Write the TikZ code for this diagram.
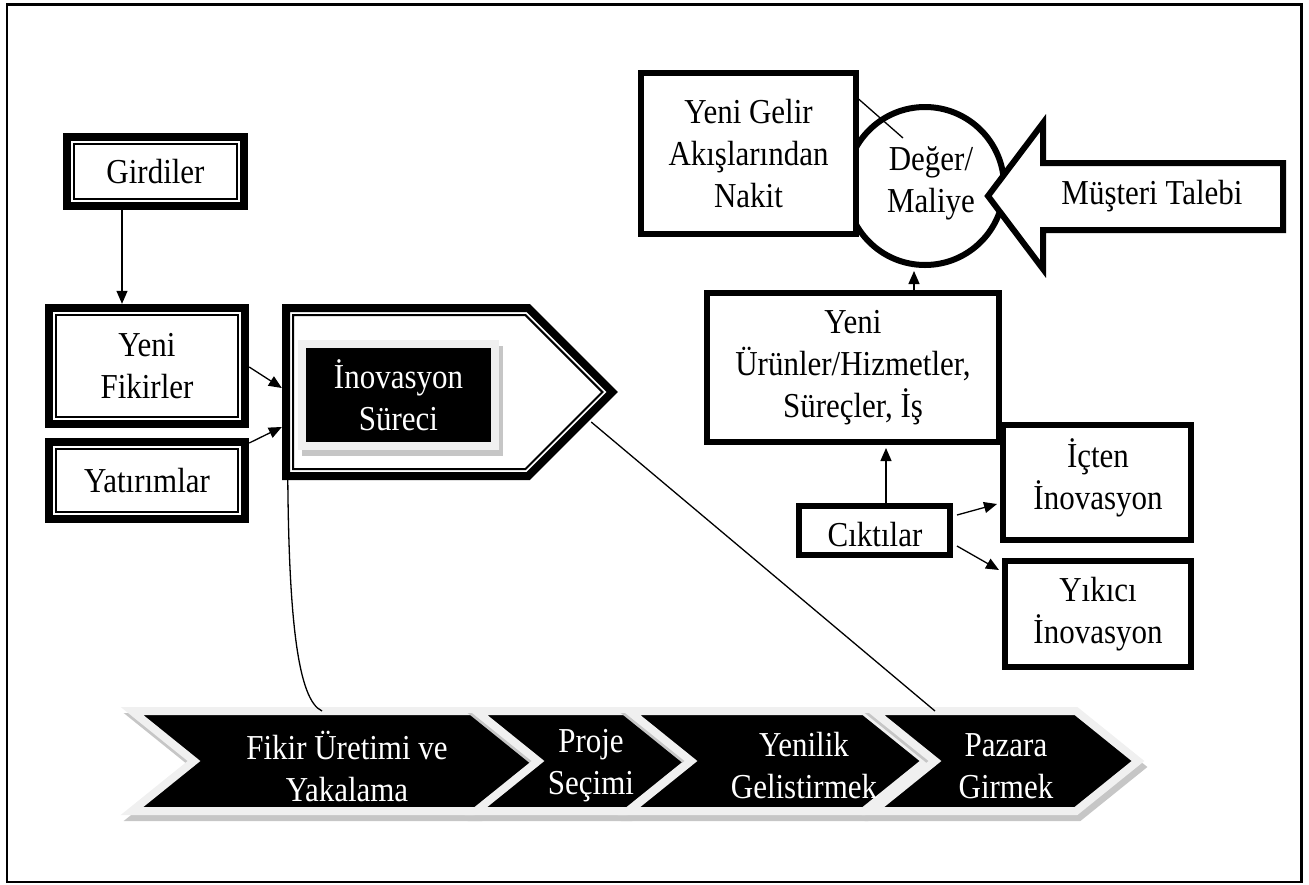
\documentclass[tikz,border=0pt]{standalone}
\usepackage{fontspec}
\setmainfont{Liberation Serif}[FakeStretch=0.885]
\usetikzlibrary{arrows.meta,calc}

% double frame: thick outer line, thin inner line
\newcommand\dblframe[1]{%
  \draw[line width=8pt] ([shift={(4,4)}]#1.north west) rectangle ([shift={(-4,-4)}]#1.south east);
  \draw[line width=2pt] ([shift={(11,11)}]#1.north west) rectangle ([shift={(-11,-11)}]#1.south east);}

\begin{document}
\begin{tikzpicture}[x=1pt,y=-1pt,
  every node/.style={font=\fontsize{35}{42}\selectfont, align=center, inner sep=0pt},
  conn/.style={line width=1.3pt, -{Triangle[length=13pt,width=11pt]}},
  thin/.style={line width=1.3pt},
  heavy/.style={draw, line width=6pt, fill=white},
  bevel/.style={fill=black, draw=gray!12, line width=8pt},
  bevelshadow/.style={fill=gray!45, draw=gray!45, line width=8pt},
]
\useasboundingbox (0,0) rectangle (1309,884);
\draw[line width=2.5pt] (7,4.5) rectangle (1301.5,882);

% ---------- inputs ----------
\node[minimum width=185pt, minimum height=77pt] (gir) at (155.5,171.5) {Girdiler};
\node[minimum width=204pt, minimum height=124pt] (yf) at (147,366) {Yeni\\Fikirler};
\node[minimum width=204pt, minimum height=85pt] (yat) at (147,480.5) {Yatırımlar};
\dblframe{gir}
\dblframe{yf}
\dblframe{yat}

% ---------- innovation process ----------
\node[minimum width=336pt, minimum height=176pt] (proc) at (450,392) {};
\draw[line width=8pt] (286,308) -- (528.3,308) -- (612.3,392) -- (528.3,476) -- (286,476) -- cycle;
\draw[line width=2pt] (293,315) -- (525.4,315) -- (602.4,392) -- (525.4,469) -- (293,469) -- cycle;
\draw[bevelshadow] (306,350) rectangle (499,452);
\node[bevel, minimum width=193pt, minimum height=102pt, text=white] (inov) at (398.5,395) {İnovasyon\\Süreci};

\draw[conn] ($(gir.south)+(-33.5,0)$) -- ($(yf.north)+(-25,0)$);
\draw[conn] ($(yf.east)+(0,1)$) -- ($(proc.west)+(0,-4)$);
\draw[conn] ($(yat.east)+(0,-37.5)$) -- ($(proc.west)+(0,35)$);

% ---------- value ----------
\node[heavy, circle, minimum size=158pt] (deg) at (925,186) {};
\coordinate (gl0) at (846,88);
\coordinate (gl1) at (903,138);
\draw[thin] (gl0) -- (gl1);
\node[heavy, minimum width=215pt, minimum height=161pt] (gel) at (748.5,153.5) {Yeni Gelir\\Akışlarından\\Nakit};
\draw[line width=6pt, fill=white] (988,196) -- (1043,123) -- (1043,163) -- (1283,163) -- (1283,230) -- (1043,230) -- (1043,269) -- cycle;
\node (mus) at (1152,196) {Müşteri Talebi};
\node (degt) at (931,183) {Değer/\\Maliye};

% ---------- outputs ----------
\node[heavy, minimum width=292pt, minimum height=149pt] (uru) at (853,367.5) {Yeni\\Ürünler/Hizmetler,\\Süreçler, İş};
\node[heavy, minimum width=188pt, minimum height=115pt] (ict) at (1097,482.5) {};
\node (ictt) at (1098,478) {İçten\\İnovasyon};
\node[heavy, minimum width=151pt, minimum height=49pt] (cik) at (874.5,530.5) {};
\node (cikt) at (875,535) {Cıktılar};
\node[heavy, minimum width=186pt, minimum height=106pt] (yik) at (1098,614) {Yıkıcı\\İnovasyon};

\draw[conn] ($(uru.north)+(61,0)$) -- ($(deg.south)+(-11,3)$);
\draw[conn] ($(cik.north)+(11.5,0)$) -- ($(uru.south)+(33,3)$);
\draw[conn] ($(cik.east)+(4,-15.5)$) -- ($(ict.west)+(-3,21.5)$);
\draw[conn] ($(cik.east)+(4,15.5)$) -- ($(yik.west)+(-3,-44)$);

% ---------- stages ----------
\foreach \a/\b/\c/\n/\t in {132/540/347/fik/{Fikir Üretimi ve\\Yakalama},
                            476/690/591/pro/{Proje\\Seçimi},
                            629/926/804/yen/{Yenilik\\Gelistirmek},
                            873/1138/1006/paz/{Pazara\\Girmek}}{
  \filldraw[bevelshadow, shift={(3,6)}] (\a,711) -- ({\b-62},711) -- (\b,761) -- ({\b-62},811) -- (\a,811) -- ({\a+62},761) -- cycle;
  \filldraw[bevel] (\a,711) -- ({\b-62},711) -- (\b,761) -- ({\b-62},811) -- (\a,811) -- ({\a+62},761) -- cycle;
  \node[text=white] (\n) at (\c,766) {\t};
}

\coordinate (fiktop) at (322,711);
\coordinate (paztop) at (935,711);
\draw[thin] ($(proc.south west)+(6,0)$) .. controls (289,620) and (298,700) .. (fiktop);
\draw[thin] ($(proc.east)+(-27,30)$) -- (paztop);
\end{tikzpicture}
\end{document}
